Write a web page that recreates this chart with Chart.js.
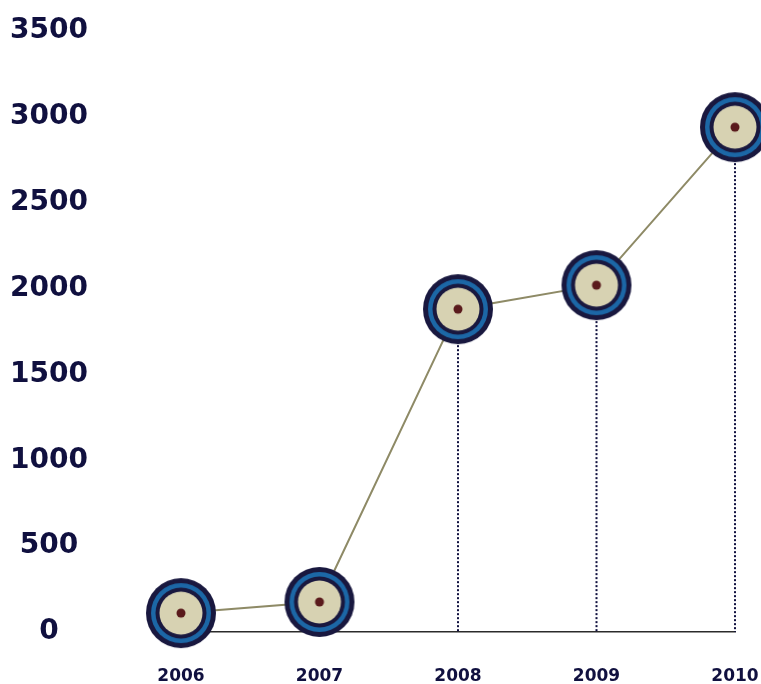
<!DOCTYPE html>
<html>
<head>
<meta charset="utf-8">
<script src="https://cdn.jsdelivr.net/npm/chart.js@4"></script>
<style>
    body { margin: 0; background: #fff; }
    #wrap { width: 761px; height: 684px; position: relative; }
</style>
</head>
<body>
<div id="wrap"><canvas id="mainChart"></canvas></div>
<script>
const years = ["2006", "2007", "2008", "2009", "2010"];
const values = [110, 175, 1880, 2020, 2940];
const yTicks = [0, 500, 1000, 1500, 2000, 2500, 3000, 3500];

const navy = "#10103f";

// 과녁 모양 마커
function makeMarker() {
    const c = document.createElement("canvas");
    c.width = 72;
    c.height = 72;
    const g = c.getContext("2d");
    const rings = [
        [35, "#19183f"],
        [30, "#1c67a6"],
        [25.5, "#19183f"],
        [21.5, "#d7d2b2"],
        [4.5, "#5a1a1c"],
    ];
    rings.forEach(([r, col]) => {
        g.beginPath();
        g.arc(36, 36, r, 0, Math.PI * 2);
        g.fillStyle = col;
        g.fill();
    });
    return c;
}

// 점에서 축까지 점선
const dropLines = {
    id: "dropLines",
    beforeDatasetsDraw(chart) {
        const { ctx, scales } = chart;
        const meta = chart.getDatasetMeta(0);
        const base = scales.y.getPixelForValue(0);
        ctx.save();
        ctx.strokeStyle = navy;
        ctx.lineWidth = 2;
        ctx.setLineDash([2, 2]);
        meta.data.forEach((pt) => {
            ctx.beginPath();
            ctx.moveTo(pt.x, pt.y);
            ctx.lineTo(pt.x, base);
            ctx.stroke();
        });
        ctx.restore();
    },
};

const ctx = document.getElementById("mainChart").getContext("2d");
const marker = makeMarker();

new Chart(ctx, {
    type: "line",
    data: {
        labels: years,
        datasets: [
            {
                data: values,
                borderColor: "#8e8a66",
                borderWidth: 2,
                tension: 0,
                pointStyle: marker,
                pointRadius: 35,
                clip: false,
            },
        ],
    },
    options: {
        responsive: true,
        maintainAspectRatio: false,
        animation: false,
        layout: { autoPadding: false, padding: { top: 31, right: 26, left: 0, bottom: 0 } },
        scales: {
            x: {
                offset: false,
                afterFit: (axis) => {
                    axis.height = 52;
                },
                // 눈금은 숨기고 tickLength로 라벨 간격만 잡음
                grid: { display: false, drawTicks: true, tickLength: 34 },
                border: { display: true, color: "#2b2b2b", width: 1.5 },
                ticks: {
                    color: navy,
                    padding: 0,
                    maxRotation: 0,
                    font: { family: "DejaVu Sans", size: 17, weight: "bold" },
                },
            },
            y: {
                min: 0,
                max: 3500,
                afterBuildTicks: (axis) => {
                    axis.ticks = yTicks.map((v) => ({ value: v }));
                },
                afterFit: (axis) => {
                    axis.width = 181;
                },
                grid: { display: false, drawTicks: true, tickLength: 93 },
                border: { display: false },
                ticks: {
                    color: navy,
                    crossAlign: "center",
                    padding: 0,
                    callback: (v) => String(v),
                    font: { family: "DejaVu Sans", size: 28, weight: "bold" },
                },
            },
        },
        plugins: {
            legend: { display: false },
            tooltip: { enabled: false },
        },
    },
    plugins: [dropLines],
});
</script>
</body>
</html>
